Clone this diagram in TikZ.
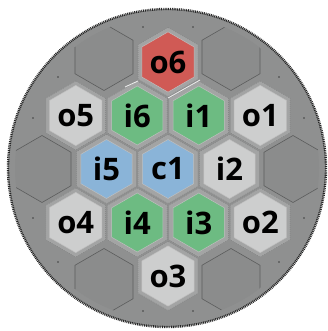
\documentclass[tikz,border=0pt]{standalone}
\usepackage{fontspec}
\setsansfont{Open Sans}
\usetikzlibrary{shapes.geometric}

\definecolor{disccol}{HTML}{8F9090}
\definecolor{panelcol}{HTML}{8B8C8C}
\definecolor{edgecol}{HTML}{5C5D5D}
\definecolor{platecol}{HTML}{A3A4A4}
\definecolor{rivetcol}{HTML}{7E7F7F}
\definecolor{redcell}{HTML}{D05A55}
\definecolor{greencell}{HTML}{6DBB82}
\definecolor{bluecell}{HTML}{8AB4D8}
\definecolor{greycell}{HTML}{CDCECE}

\begin{document}
\begin{tikzpicture}[
    x=1pt, y=-1pt,
    hexbase/.style={regular polygon, regular polygon sides=6,
                    shape border rotate=30, inner sep=0pt},
    panel/.style={hexbase, minimum size=67pt, fill=panelcol,
                  draw=edgecol, line width=0.6pt},
    plate/.style={hexbase, minimum size=69pt, fill=platecol,
                  draw=rivetcol, line width=0.5pt,
                  dash pattern=on 0.6pt off 1.4pt},
    cell/.style={hexbase, minimum size=59pt, draw=platecol!70!white,
                 line width=0.5pt,
                 font=\sffamily\bfseries\fontsize{31}{31}\selectfont},
    screw/.style={fill=black!75}
  ]
  \useasboundingbox (0,0) rectangle (328,331);

  % disc
  \fill[disccol] (167,168) circle (159);

  % outer panels, cut by the rim
  \begin{scope}
    \clip (167,168) circle (152);
    \foreach \nm/\px/\py in {pl/42/169, pr/293/169, ptl/104/57, ptr/231/57,
                             pbl/104/282, pbr/231/282} {
      \node[panel] (\nm) at (\px,\py) {};
    }
  \end{scope}

  % cells
  \foreach \nm/\col/\dx/\dy in {c1/bluecell/0/0, i1/greencell/0.5/-1,
      i2/greycell/1/0, i3/greencell/0.5/1, i4/greencell/-0.5/1,
      i5/bluecell/-1/0, i6/greencell/-0.5/-1, o1/greycell/1.5/-1,
      o2/greycell/1.5/1, o3/greycell/0/2, o4/greycell/-1.5/1,
      o5/greycell/-1.5/-1, o6/redcell/0/-2} {
    \node[plate] (p\nm) at (168+\dx*61.5, 169+\dy*53.5) {};
  }
  \foreach \nm/\col/\dx/\dy in {c1/bluecell/0/0, i1/greencell/0.5/-1,
      i2/greycell/1/0, i3/greencell/0.5/1, i4/greencell/-0.5/1,
      i5/bluecell/-1/0, i6/greencell/-0.5/-1, o1/greycell/1.5/-1,
      o2/greycell/1.5/1, o3/greycell/0/2, o4/greycell/-1.5/1,
      o5/greycell/-1.5/-1, o6/redcell/0/-2} {
    \node[cell, fill=\col] (\nm) at (p\nm) {\nm};
  }

  % highlights near o6
  \draw[white, line width=0.9pt, opacity=0.8] (125,87) -- (138,81);
  \draw[white, line width=0.9pt, opacity=0.8] (168,98) -- (200,80);

  % screws
  \foreach \sx/\sy in {58/77, 33/118, 143/27, 193/27, 279/77, 304/118,
                       33/218, 58/262, 279/262, 304/218, 143/311, 193/311} {
    \fill[screw] (\sx,\sy) circle (0.9);
  }

  % serrated rim
  \draw[black!85, line width=2.4pt, dash pattern=on 0.9pt off 0.9pt]
    (167,168) circle (159);
\end{tikzpicture}
\end{document}
